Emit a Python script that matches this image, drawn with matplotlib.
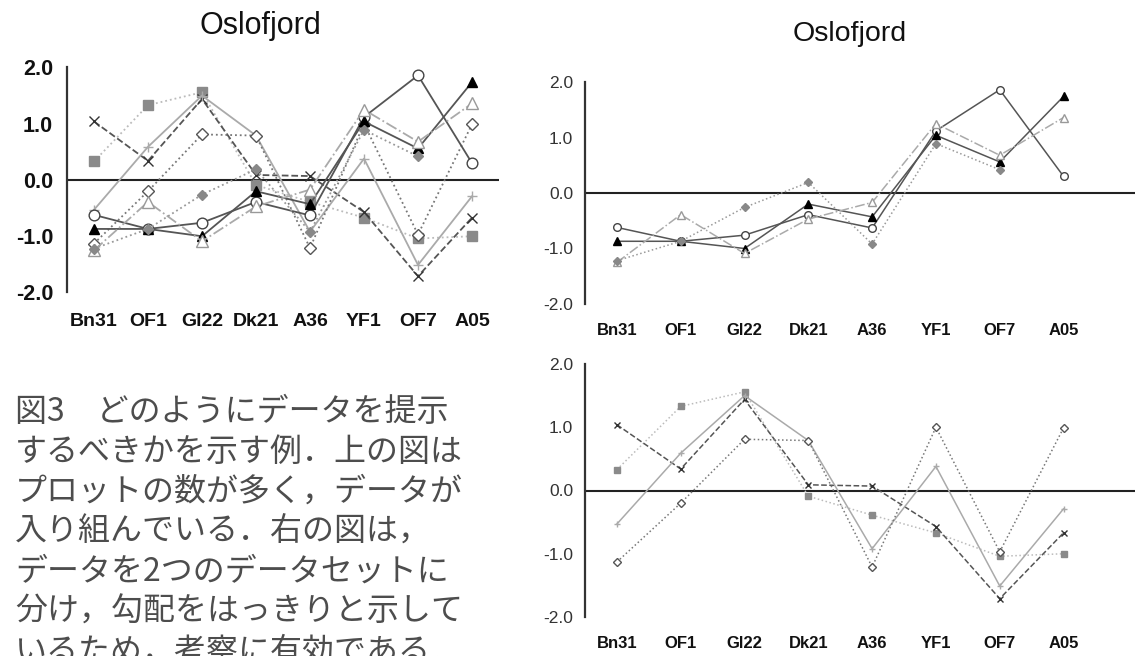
import numpy as np
import matplotlib
matplotlib.use("Agg")
import matplotlib.pyplot as plt

plt.rcParams["font.family"] = ["Liberation Sans", "DejaVu Sans"]

W, H = 1135, 656

sites = ["Bn31", "OF1", "Gl22", "Dk21", "A36", "YF1", "OF7", "A05"]

# upper-right group
circle_open = [-0.62, -0.87, -0.76, -0.39, -0.63, 1.12, 1.86, 0.30]
triangle_filled = [-0.87, -0.87, -1.00, -0.20, -0.43, 1.04, 0.56, 1.74]
triangle_open = [-1.25, -0.39, -1.09, -0.47, -0.17, 1.25, 0.68, 1.36]
diamond_filled = [-1.22, -0.87, -0.26, 0.19, -0.92, 0.89, 0.42, np.nan]

# lower-right group
square_gray = [0.33, 1.33, 1.56, -0.09, -0.39, -0.67, -1.04, -1.00]
cross_dark = [1.04, 0.34, 1.44, 0.09, 0.07, -0.57, -1.71, -0.67]
plus_light = [-0.53, 0.59, 1.50, 0.79, -0.92, 0.38, -1.51, -0.29]
diamond_open = [-1.13, -0.20, 0.81, 0.79, -1.21, 1.00, -0.97, 0.99]

yticks = [-2.0, -1.0, 0.0, 1.0, 2.0]

caption = [
    "図3　どのようにデータを提示",
    "するべきかを示す例．上の図は",
    "プロットの数が多く，データが",
    "入り組んでいる．右の図は，",
    "データを2つのデータセットに",
    "分け，勾配をはっきりと示して",
    "いるため，考察に有効である．",
]

styles = {
    "circle_open": dict(color="#555555", ls="-", marker="o", mfc="white", mec="#444444", ms=5.5),
    "triangle_filled": dict(color="#555555", ls="-", marker="^", mfc="black", mec="black", ms=5.5),
    "triangle_open": dict(color="#aaaaaa", ls="-.", marker="^", mfc="white", mec="#999999", ms=6),
    "diamond_filled": dict(color="#999999", ls=":", marker="D", mfc="#888888", mec="#888888", ms=4),
    "square_gray": dict(color="#bbbbbb", ls=":", marker="s", mfc="#8a8a8a", mec="#8a8a8a", ms=5),
    "cross_dark": dict(color="#555555", ls="--", marker="x", mfc="#333333", mec="#333333", ms=5),
    "plus_light": dict(color="#aaaaaa", ls="-", marker="+", mfc="#aaaaaa", mec="#aaaaaa", ms=5),
    "diamond_open": dict(color="#777777", ls=":", marker="D", mfc="white", mec="#555555", ms=4.5),
}

upper = {"circle_open": circle_open, "triangle_filled": triangle_filled,
         "triangle_open": triangle_open, "diamond_filled": diamond_filled}
lower = {"square_gray": square_gray, "cross_dark": cross_dark,
         "plus_light": plus_light, "diamond_open": diamond_open}


def box(x0, y0, x1, y1):
    return [x0 / W, 1 - y1 / H, (x1 - x0) / W, (y1 - y0) / H]


def setup(ax, xlim, xsize, ysize, xpad, ypad, yweight, ycolor):
    x = np.arange(len(sites))
    ax.set_xlim(*xlim)
    ax.set_ylim(-2, 2)
    for s in ["top", "right", "bottom"]:
        ax.spines[s].set_visible(False)
    ax.spines["left"].set_color("#333333")
    ax.spines["left"].set_linewidth(1.6)
    ax.axhline(0, color="#222222", lw=1.5, zorder=1)
    ax.set_xticks(x)
    ax.set_xticklabels(sites, fontsize=xsize, fontweight="bold", color="#111111")
    ax.set_yticks(yticks)
    ax.set_yticklabels([f"{v:.1f}" for v in yticks], fontsize=ysize,
                       fontweight=yweight, color=ycolor)
    ax.tick_params(axis="x", length=0, pad=xpad)
    ax.tick_params(axis="y", length=0, pad=ypad)
    ax.patch.set_alpha(0)


def draw(ax, series, scale=1.0, lw=1.1):
    x = np.arange(len(sites))
    for name, vals in series.items():
        st = dict(styles[name])
        ms = st.pop("ms") * scale
        ax.plot(x, vals, lw=lw, ms=ms, mew=1.0, zorder=3, **st)


fig = plt.figure(figsize=(W / 100, H / 100), dpi=100)

# left: everything in one chart
ax_l = fig.add_axes(box(67, 67.5, 499, 292.5))
setup(ax_l, (-0.5, 7.5), 14, 15.5, 15, 10, "bold", "#111111")
draw(ax_l, {**lower, **upper}, scale=1.4, lw=1.3)
fig.text(260 / W, 1 - 26 / H, "Oslofjord", fontsize=22, ha="center", va="center", color="#111111")

# right: split into two groups
ax_t = fig.add_axes(box(585, 82, 1135, 304))
setup(ax_t, (-0.5, 8.12), 12, 12.5, 14, 8.5, "normal", "#333333")
draw(ax_t, upper)
fig.text(850 / W, 1 - 34 / H, "Oslofjord", fontsize=20.5, ha="center", va="center", color="#111111")

ax_b = fig.add_axes(box(585, 364, 1135, 617))
setup(ax_b, (-0.5, 8.12), 12, 12.5, 14, 8.5, "normal", "#333333")
draw(ax_b, lower)

for i, line in enumerate(caption):
    fig.text(15 / W, 1 - (412 + 40 * i) / H, line, fontsize=23, ha="left", va="center",
             color="#4d4d4d", family=["Noto Sans CJK JP", "DejaVu Sans"])

fig.savefig("out.png", dpi=100)
